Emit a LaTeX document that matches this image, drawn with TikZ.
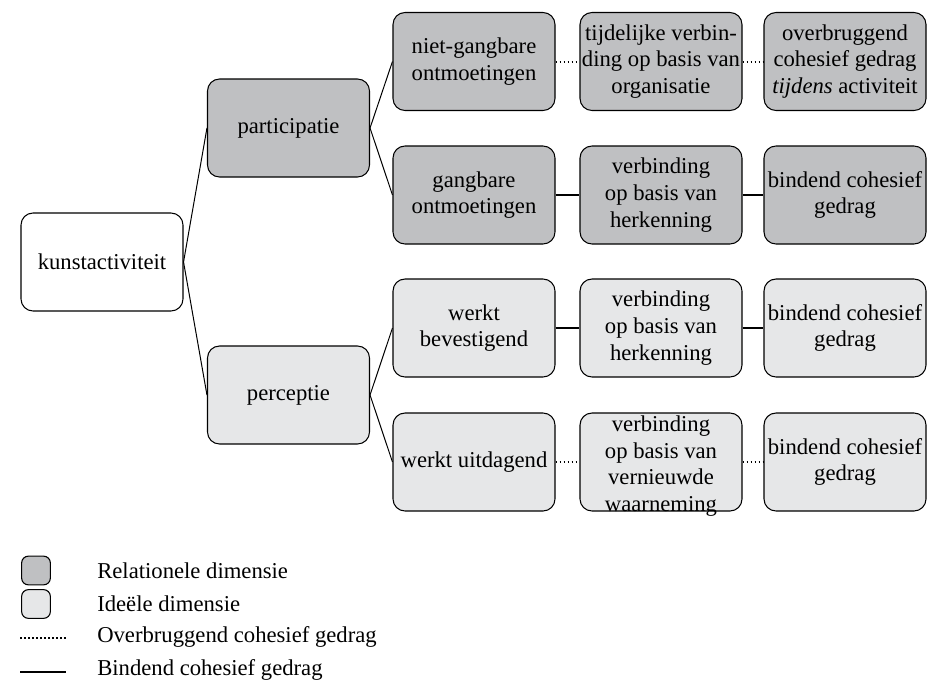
\documentclass[tikz,border=0pt]{standalone}
\usepackage{fontspec}
\setmainfont{Liberation Serif}
\definecolor{relgray}{RGB}{191,192,194}
\definecolor{idegray}{RGB}{230,231,232}
\begin{document}
\begin{tikzpicture}
  [
    x=0.75pt, y=-0.75pt,
    box/.style =
      {draw, rounded corners=9pt, align=center, inner sep=0pt, line width=0.8pt,
       minimum width=121.5pt, minimum height=73.5pt,
       font=\fontsize{17}{20}\selectfont},
    rel/.style = {box, fill=relgray},
    ide/.style = {box, fill=idegray},
    key/.style =
      {draw, rounded corners=5pt, inner sep=0pt, line width=0.8pt, minimum size=21.5pt},
    keytext/.style = {anchor=west, inner sep=0pt, font=\fontsize{17}{20}\selectfont},
    tree/.style = {line width=0.75pt},
    bridge/.style = {line width=1.5pt, dash pattern=on 1.4pt off 1.6pt},
    bind/.style = {line width=2.1pt}
  ]
  \useasboundingbox (0,0) rectangle (929,682);

  \node [box]  at (102, 262) (kunst) {kunstactiviteit};
  \node [rel]  at (288.5, 128) (part) {participatie};
  \node [ide]  at (288.5, 395) (perc) {perceptie};

  \node [rel] at (474, 61.5) (nietg) {niet-gangbare\\ontmoetingen};
  \node [rel] at (661, 61.5) (tijd)  {tijdelijke verbin-\\ding op basis van\\organisatie};
  \node [rel] at (845, 61.5) (over)  {overbruggend\\cohesief gedrag\\\textit{tijdens} activiteit};

  \node [rel] at (474, 195) (gang)   {gangbare\\ontmoetingen};
  \node [rel] at (661, 195) (herkA)  {verbinding\\op basis van\\herkenning};
  \node [rel] at (845, 195) (bindA)  {bindend cohesief\\gedrag};

  \node [ide] at (474, 328) (bev)    {werkt\\bevestigend};
  \node [ide] at (661, 328) (herkB)  {verbinding\\op basis van\\herkenning};
  \node [ide] at (845, 328) (bindB)  {bindend cohesief\\gedrag};

  \node [ide] at (474, 462) (uitd)   {werkt uitdagend};
  \node [ide] at (661, 462) (vern)
    {\smash{\raisebox{-7.5pt}{\begin{tabular}{@{}c@{}}verbinding\\op basis van\\vernieuwde\\waarneming\end{tabular}}}};
  \node [ide] at (845, 462) (bindC)  {bindend cohesief\\gedrag};

  % boom
  \draw [tree] (kunst.east) -- (part.west);
  \draw [tree] (kunst.east) -- (perc.west);
  \draw [tree] (part.east)  -- (nietg.west);
  \draw [tree] (part.east)  -- (gang.west);
  \draw [tree] (perc.east)  -- (bev.west);
  \draw [tree] (perc.east)  -- (uitd.west);

  % cohesie
  \draw [bridge] (nietg.east) -- (tijd.west);
  \draw [bridge] (tijd.east)  -- (over.west);
  \draw [bind]   (gang.east)  -- (herkA.west);
  \draw [bind]   (herkA.east) -- (bindA.west);
  \draw [bind]   (bev.east)   -- (herkB.west);
  \draw [bind]   (herkB.east) -- (bindB.west);
  \draw [bridge] (uitd.east)  -- (vern.west);
  \draw [bridge] (vern.east)  -- (bindC.west);

  % legenda
  \node [key, fill=relgray] at (36, 570.5) (keyrel) {};
  \node [key, fill=idegray] at (36, 604) (keyide) {};
  \coordinate (bra) at (20, 638);
  \coordinate (brb) at (67, 638);
  \coordinate (bia) at (20, 672);
  \coordinate (bib) at (66, 672);
  \draw [bridge] (bra) -- (brb);
  \draw [bind]   (bia) -- (bib);
  \node [keytext] at (97, 571) (trel) {Relationele dimensie};
  \node [keytext] at (97, 604) (tide) {Ideële dimensie};
  \node [keytext] at (97, 637) (tbr)  {Overbruggend cohesief gedrag};
  \node [keytext] at (97, 670) (tbi)  {Bindend cohesief gedrag};
\end{tikzpicture}
\end{document}
